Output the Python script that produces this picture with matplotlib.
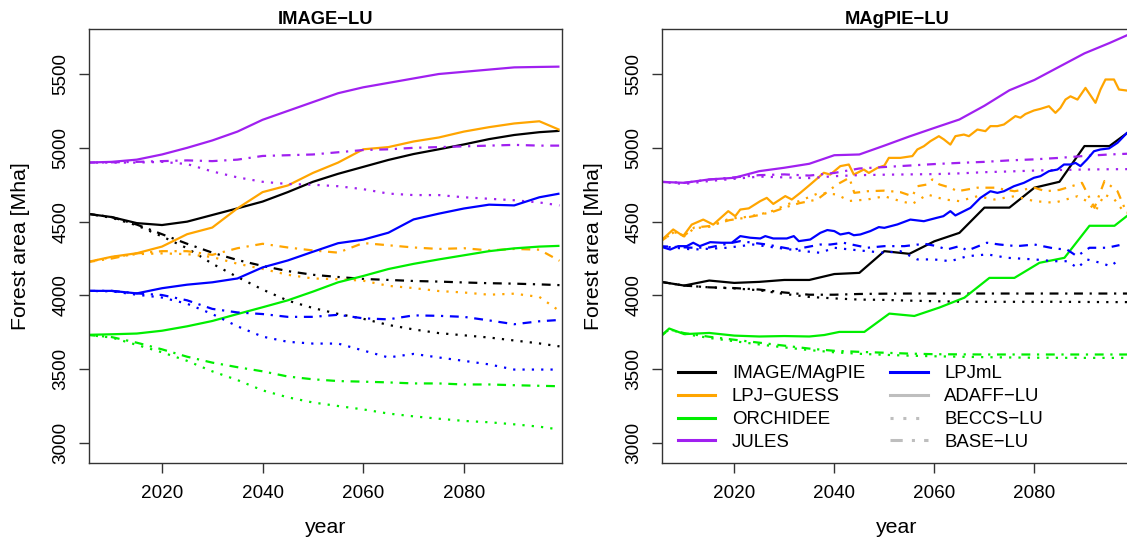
import matplotlib
matplotlib.use("Agg")
import matplotlib.pyplot as plt
from matplotlib.lines import Line2D

plt.rcParams['font.family'] = ['Liberation Sans', 'DejaVu Sans']

# ---------------- data ----------------
models = ["IMAGE/MAgPIE", "LPJ\u2212GUESS", "ORCHIDEE", "JULES", "LPJmL"]
model_colors = ["#000000", "#FFA500", "#00EE00", "#A020F0", "#0000FF"]
scenarios = ["ADAFF\u2212LU", "BECCS\u2212LU", "BASE\u2212LU"]
panel_titles = ["IMAGE\u2212LU", "MAgPIE\u2212LU"]

# ---- IMAGE-LU panel (common 5-year grid) ----
years_img = [2005, 2010, 2015, 2020, 2025, 2030, 2035, 2040, 2045, 2050,
             2055, 2060, 2065, 2070, 2075, 2080, 2085, 2090, 2095, 2099]

img_image_adaff = [4554, 4531, 4490, 4477, 4500, 4545, 4590, 4636, 4700, 4770,
                   4824, 4871, 4918, 4958, 4990, 5023, 5059, 5087, 5106, 5115]
img_image_beccs = [4554, 4526, 4475, 4400, 4320, 4215, 4125, 4040, 3965, 3915,
                   3875, 3842, 3800, 3770, 3745, 3730, 3715, 3695, 3675, 3655]
img_image_base = [4554, 4531, 4480, 4415, 4350, 4290, 4240, 4200, 4165, 4140,
                  4125, 4112, 4105, 4098, 4094, 4088, 4083, 4080, 4075, 4070]

img_guess_adaff = [4225, 4262, 4286, 4331, 4415, 4460, 4590, 4700, 4745, 4830,
                   4900, 4990, 5005, 5043, 5070, 5110, 5140, 5165, 5180, 5122]
img_guess_beccs = [4225, 4260, 4280, 4285, 4280, 4260, 4215, 4180, 4140, 4115,
                   4110, 4100, 4065, 4050, 4030, 4020, 4005, 4012, 3990, 3895]
img_guess_base = [4225, 4250, 4285, 4300, 4300, 4275, 4320, 4350, 4325, 4305,
                  4290, 4355, 4340, 4325, 4315, 4320, 4305, 4315, 4310, 4235]

img_orch_adaff = [3733, 3737, 3742, 3761, 3791, 3827, 3874, 3920, 3967, 4026,
                  4089, 4132, 4179, 4214, 4244, 4272, 4300, 4319, 4331, 4336]
img_orch_beccs = [3733, 3715, 3665, 3615, 3557, 3486, 3427, 3357, 3310, 3275,
                  3251, 3228, 3200, 3181, 3165, 3150, 3141, 3127, 3111, 3092]
img_orch_base = [3733, 3718, 3680, 3635, 3585, 3545, 3514, 3486, 3451, 3432,
                 3420, 3416, 3411, 3404, 3404, 3397, 3397, 3392, 3388, 3385]

img_jules_adaff = [4900, 4905, 4920, 4955, 5000, 5050, 5110, 5190, 5250, 5310,
                   5370, 5410, 5440, 5470, 5500, 5515, 5530, 5545, 5548, 5550]
img_jules_beccs = [4900, 4900, 4900, 4905, 4890, 4840, 4800, 4770, 4755, 4750,
                   4740, 4720, 4690, 4680, 4680, 4665, 4655, 4645, 4630, 4610]
img_jules_base = [4900, 4902, 4905, 4910, 4915, 4910, 4920, 4945, 4950, 4955,
                  4970, 4985, 4990, 5000, 5005, 5010, 5015, 5020, 5015, 5015]

img_lpjml_adaff = [4031, 4031, 4014, 4049, 4073, 4089, 4115, 4190, 4237, 4296,
                   4354, 4378, 4425, 4515, 4554, 4589, 4615, 4610, 4665, 4690]
img_lpjml_beccs = [4031, 4028, 4005, 3986, 3944, 3874, 3791, 3721, 3686, 3674,
                   3674, 3627, 3580, 3604, 3580, 3557, 3533, 3498, 3498, 3498]
img_lpjml_base = [4031, 4031, 4014, 4003, 3967, 3909, 3885, 3874, 3855, 3855,
                  3869, 3845, 3838, 3865, 3862, 3855, 3831, 3805, 3825, 3834]

# ---- MAgPIE-LU panel ----
years_mag = [2005, 2010, 2015, 2020, 2025, 2030, 2035, 2040, 2045, 2050,
             2055, 2060, 2065, 2070, 2075, 2080, 2085, 2090, 2095, 2100]

mag_image_adaff = [4094, 4067, 4101, 4085, 4092, 4105, 4105, 4145, 4153, 4300,
                   4282, 4367, 4424, 4595, 4595, 4730, 4770, 5012, 5012, 5137]
mag_image_beccs = [4094, 4067, 4055, 4048, 4035, 4010, 3990, 3980, 3972, 3970,
                   3965, 3961, 3958, 3957, 3957, 3957, 3957, 3956, 3955, 3955]
mag_image_base = [4094, 4067, 4055, 4050, 4040, 4020, 4005, 4005, 4010, 4012,
                  4013, 4013, 4013, 4013, 4013, 4013, 4013, 4013, 4013, 4013]

mag_jules_adaff = [4770, 4763, 4786, 4797, 4842, 4865, 4892, 4950, 4955, 5015,
                   5077, 5135, 5192, 5285, 5390, 5460, 5550, 5640, 5710, 5785]
mag_jules_beccs = [4770, 4755, 4775, 4790, 4805, 4800, 4795, 4808, 4815, 4818,
                   4820, 4822, 4827, 4835, 4840, 4846, 4850, 4853, 4855, 4856]
mag_jules_base = [4770, 4763, 4785, 4800, 4815, 4820, 4812, 4830, 4860, 4870,
                  4880, 4890, 4898, 4905, 4915, 4922, 4932, 4945, 4955, 4962]

years_mag_orch = [2005, 2007, 2010, 2015, 2020, 2025, 2030, 2035, 2038, 2041, 2046,
                  2051, 2056, 2061, 2066, 2071, 2076, 2081, 2086, 2091, 2096, 2101]
mag_orch_adaff = [3715, 3776, 3738, 3746, 3728, 3722, 3725, 3722, 3732, 3753, 3753,
                  3877, 3861, 3918, 3985, 4119, 4119, 4221, 4255, 4472, 4472, 4605]
years_mag_orch2 = [2005, 2007, 2010, 2015, 2020, 2025, 2030, 2035, 2040, 2045,
                   2050, 2055, 2060, 2070, 2080, 2090, 2100]
mag_orch_beccs = [3715, 3770, 3740, 3712, 3690, 3668, 3648, 3630, 3615, 3605,
                  3598, 3592, 3588, 3582, 3578, 3577, 3577]
mag_orch_base = [3715, 3770, 3745, 3720, 3700, 3680, 3660, 3640, 3625, 3618,
                 3612, 3606, 3602, 3600, 3600, 3600, 3600]

years_mag_guess_a = [2005, 2007.8, 2009.8, 2011.5, 2013.8, 2015.8, 2018.8, 2020.2, 2021.2,
                     2022.9, 2025.2, 2026.5, 2027.8, 2030.2, 2031.5, 2033.2, 2035.2,
                     2037.9, 2039.2, 2041.2, 2042.9, 2043.9, 2045.9, 2046.9, 2048.6,
                     2050, 2050.9, 2053.2, 2055.6, 2056.6, 2057.9, 2059.2, 2060.9,
                     2061.9, 2063.2, 2064.2, 2065.9, 2066.9, 2068.6, 2070.2, 2071.2,
                     2072.6, 2073.9, 2076.2, 2077.2, 2078.2, 2079.9, 2081.2, 2082.9,
                     2084.2, 2085.2, 2086.2, 2087.2, 2088.6, 2090.2, 2092.2, 2093.2,
                     2094.2, 2095.9, 2096.9, 2098.5, 2100]
mag_guess_adaff = [4360, 4447, 4402, 4480, 4514, 4480, 4571, 4537, 4582,
                   4590, 4639, 4661, 4620, 4673, 4650, 4695, 4752,
                   4831, 4819, 4876, 4887, 4819, 4853, 4830, 4864,
                   4880, 4932, 4932, 4944, 4989, 5011, 5045, 5079,
                   5057, 5022, 5079, 5090, 5079, 5124, 5113, 5147,
                   5147, 5158, 5215, 5204, 5229, 5253, 5264, 5282,
                   5237, 5271, 5327, 5349, 5327, 5406, 5305, 5395,
                   5463, 5463, 5395, 5388, 5395]
years_mag_guess_c = [2005, 2008, 2010, 2012, 2015, 2019, 2022, 2025, 2028, 2030.5, 2033,
                     2036.6, 2040.5, 2043, 2044, 2046.6, 2050, 2053.2, 2055.6, 2056.6,
                     2058.6, 2059.6, 2061, 2063.2, 2064.6, 2068.6, 2072, 2076, 2080,
                     2082.2, 2085, 2088.6, 2089.5, 2092, 2094, 2096.6, 2098, 2100]
mag_guess_base = [4360, 4430, 4405, 4460, 4470, 4510, 4525, 4545, 4570, 4600, 4625,
                  4650, 4751, 4797, 4695, 4706, 4710, 4700, 4672, 4740,
                  4752, 4786, 4752, 4730, 4706, 4730, 4730, 4706, 4730,
                  4706, 4715, 4752, 4763, 4594, 4775, 4706, 4594, 4600]
years_mag_guess_b = [2005, 2008, 2010, 2012, 2015, 2019, 2022, 2025, 2028, 2030.5, 2033,
                     2037, 2040.5, 2043, 2046.6, 2050, 2053.2, 2055.6, 2058.6, 2062,
                     2065, 2068.6, 2072, 2076, 2080, 2084, 2088.6, 2090.5, 2092.2,
                     2094, 2096, 2098, 2100]
mag_guess_beccs = [4360, 4430, 4400, 4455, 4465, 4520, 4530, 4548, 4576, 4617, 4639,
                   4695, 4684, 4640, 4650, 4672, 4639, 4620, 4684, 4650,
                   4639, 4672, 4650, 4672, 4639, 4628, 4672, 4639, 4571,
                   4684, 4650, 4560, 4560]

years_mag_lpjml_a = [2005, 2007.2, 2008.8, 2010.5, 2011.8, 2013.1, 2015.2, 2017.5, 2019.5,
                     2021.2, 2023.2, 2025.2, 2026.2, 2027.8, 2030.5, 2031.9, 2032.9,
                     2035.2, 2037.2, 2038.6, 2040, 2041.2, 2042.9, 2043.9, 2045.2,
                     2047.2, 2048.9, 2050, 2052.6, 2055.2, 2057.9, 2060.5, 2061.8,
                     2063.2, 2064.2, 2065.9, 2067.2, 2069.2, 2071.2, 2072.6, 2073.9,
                     2075.9, 2077.9, 2079.9, 2081.2, 2082.9, 2084.6, 2085.9, 2087.2,
                     2088.2, 2089.2, 2090.5, 2091.9, 2093.2, 2094.9, 2096.6, 2098.5, 2100]
mag_lpjml_adaff = [4334, 4311, 4334, 4334, 4357, 4334, 4361, 4357, 4357,
                   4402, 4391, 4386, 4402, 4386, 4386, 4402, 4368,
                   4379, 4424, 4443, 4436, 4413, 4424, 4408, 4413,
                   4436, 4463, 4458, 4481, 4514, 4503, 4526, 4537,
                   4571, 4542, 4571, 4593, 4661, 4706, 4695, 4706,
                   4740, 4763, 4797, 4808, 4842, 4853, 4887, 4887,
                   4898, 4876, 4921, 4977, 4989, 4996, 5034, 5101, 5130]
years_mag_lpjml_c = [2005, 2011.8, 2015, 2021.2, 2026.5, 2031.9, 2037.2, 2039.2, 2041.8,
                     2046.6, 2050, 2054, 2058, 2060.5, 2062.5, 2065, 2066.6, 2070.5,
                     2073, 2076.5, 2080, 2084, 2086.5, 2088.5, 2091, 2094.5, 2097]
mag_lpjml_base = [4334, 4323, 4325, 4368, 4345, 4311, 4345, 4345, 4357,
                  4323, 4334, 4334, 4350, 4334, 4311, 4334, 4304, 4357,
                  4345, 4334, 4345, 4318, 4311, 4266, 4323, 4323, 4341]
years_mag_lpjml_b = [2005, 2011.8, 2018.5, 2023.8, 2028.5, 2033.9, 2037.2, 2040, 2043.2,
                     2046.6, 2050, 2053.2, 2056.6, 2059.9, 2063.2, 2066.6, 2070.6,
                     2074.6, 2080, 2084, 2086.6, 2088.6, 2090.5, 2093.2, 2095.2, 2097]
mag_lpjml_beccs = [4334, 4311, 4323, 4345, 4323, 4300, 4289, 4323, 4311,
                   4300, 4289, 4300, 4244, 4244, 4232, 4266, 4278,
                   4255, 4244, 4232, 4232, 4187, 4244, 4221, 4198, 4244]

x_ticks = [2020, 2040, 2060, 2080]
y_ticks = [3000, 3500, 4000, 4500, 5000, 5500]

# series per panel: (model index, scenario index, years, values)
panel_series = [
    [
        (0, 0, years_img, img_image_adaff), (0, 1, years_img, img_image_beccs), (0, 2, years_img, img_image_base),
        (1, 0, years_img, img_guess_adaff), (1, 1, years_img, img_guess_beccs), (1, 2, years_img, img_guess_base),
        (2, 0, years_img, img_orch_adaff), (2, 1, years_img, img_orch_beccs), (2, 2, years_img, img_orch_base),
        (3, 0, years_img, img_jules_adaff), (3, 1, years_img, img_jules_beccs), (3, 2, years_img, img_jules_base),
        (4, 0, years_img, img_lpjml_adaff), (4, 1, years_img, img_lpjml_beccs), (4, 2, years_img, img_lpjml_base),
    ],
    [
        (0, 0, years_mag, mag_image_adaff), (0, 1, years_mag, mag_image_beccs), (0, 2, years_mag, mag_image_base),
        (1, 0, years_mag_guess_a, mag_guess_adaff), (1, 1, years_mag_guess_b, mag_guess_beccs),
        (1, 2, years_mag_guess_c, mag_guess_base),
        (2, 0, years_mag_orch, mag_orch_adaff), (2, 1, years_mag_orch2, mag_orch_beccs),
        (2, 2, years_mag_orch2, mag_orch_base),
        (3, 0, years_mag, mag_jules_adaff), (3, 1, years_mag, mag_jules_beccs), (3, 2, years_mag, mag_jules_base),
        (4, 0, years_mag_lpjml_a, mag_lpjml_adaff), (4, 1, years_mag_lpjml_b, mag_lpjml_beccs),
        (4, 2, years_mag_lpjml_c, mag_lpjml_base),
    ],
]

# ---------------- figure ----------------
W, H = 1127, 542
fig = plt.figure(figsize=(W / 100, H / 100), dpi=100)


def px_axes(l, t, r, b):
    return fig.add_axes([l / W, 1 - b / H, (r - l) / W, (b - t) / H])


LW = 1.6
scen_style = [dict(linestyle='-'), dict(dashes=(1, 3.2)), dict(dashes=(4, 3, 1, 3))]

axes_px = [(89, 29, 562, 463), (661.7, 29, 1132, 463)]
axs = [px_axes(*p) for p in axes_px]

TICK_FS = 13.6
LABEL_FS = 15.3

for k, ax in enumerate(axs):
    for (mi, si, yrs, vals) in panel_series[k]:
        ax.plot(yrs, vals, color=model_colors[mi], lw=LW, solid_capstyle='butt',
                **scen_style[si])
    ax.set_xlim(2005.5, 2099.5)
    ax.set_ylim(2865, 5805)
    ax.set_xticks(x_ticks)
    ax.set_yticks(y_ticks)
    ax.set_xticklabels([str(t) for t in x_ticks], fontsize=TICK_FS)
    ax.set_yticklabels([str(t) for t in y_ticks], fontsize=TICK_FS,
                       rotation=90, va='center')
    ax.tick_params(axis='both', length=7, width=1.0, color='#333333')
    ax.tick_params(axis='x', pad=9)
    ax.tick_params(axis='y', pad=7)
    for sp in ax.spines.values():
        sp.set_linewidth(1.0)
        sp.set_color('#333333')

    l, t, r, b = axes_px[k]
    cx = (l + r) / 2
    fig.text(cx / W, 1 - 23.9 / H, panel_titles[k], ha='center', va='baseline',
             fontsize=13.2, fontweight='bold')
    fig.text(cx / W, 1 - 533 / H, "year", ha='center', va='baseline',
             fontsize=LABEL_FS)
    fig.text((l - 62.5) / W, 1 - 246 / H, "Forest area [Mha]", rotation=90,
             rotation_mode='anchor', ha='center', va='baseline', fontsize=LABEL_FS)

# legend in right panel
handles = [Line2D([], [], color=c, lw=2.2) for c in model_colors]
handles += [Line2D([], [], color='#BEBEBE', lw=2.2, **scen_style[i]) for i in range(3)]
labels = models + scenarios
axR = axs[1]
axR.legend(handles, labels, ncol=2, loc='lower left',
           bbox_to_anchor=(16.3 / 470.3, 12.0 / 434), frameon=False,
           borderpad=0, borderaxespad=0, handlelength=2.0, handletextpad=0.9,
           columnspacing=1.35, labelspacing=0.32, fontsize=13.4)

fig.savefig("out.png", dpi=100)
